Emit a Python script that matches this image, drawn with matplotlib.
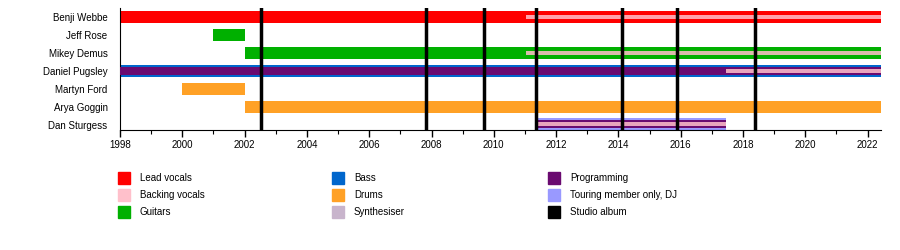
import matplotlib.pyplot as plt
from matplotlib.patches import Rectangle
from matplotlib.colors import to_rgb

plt.rcParams['font.family'] = ['Liberation Sans', 'DejaVu Sans']
plt.rcParams['font.size'] = 7

END = 2022.43

members = ['Benji Webbe', 'Jeff Rose', 'Mikey Demus', 'Daniel Pugsley',
           'Martyn Ford', 'Arya Goggin', 'Dan Sturgess']

# spans: member, role, start, end (later spans of a member are drawn inside earlier ones)
span_member = ['Benji Webbe', 'Benji Webbe', 'Jeff Rose', 'Mikey Demus', 'Mikey Demus',
               'Daniel Pugsley', 'Daniel Pugsley', 'Daniel Pugsley',
               'Martyn Ford', 'Arya Goggin',
               'Dan Sturgess', 'Dan Sturgess', 'Dan Sturgess']
span_role = ['Lead vocals', 'Backing vocals', 'Guitars', 'Guitars', 'Backing vocals',
             'Bass', 'Programming', 'Backing vocals',
             'Drums', 'Drums',
             'Touring member only, DJ', 'Programming', 'Backing vocals']
span_start = [1998.0, 2011.03, 2000.98, 2002.0, 2011.03,
              1998.0, 1998.0, 2017.45,
              2000.0, 2002.0,
              2011.35, 2011.35, 2011.35]
span_end = [END, END, 2002.0, END, END,
            END, END, END,
            2002.0, END,
            2017.45, 2017.45, 2017.45]

albums = [2002.53, 2007.82, 2009.69, 2011.35, 2014.12, 2015.89, 2018.39]

roles = ['Lead vocals', 'Backing vocals', 'Guitars', 'Bass', 'Drums', 'Synthesiser',
         'Programming', 'Touring member only, DJ', 'Studio album']
role_colors = ['#ff0000', '#ffc0cb', '#00b000', '#0066cc', '#ffa126', '#c8b4cc',
               '#6a0a70', '#9999ff', '#000000']
color_of = dict(zip(roles, role_colors))

fig = plt.figure(figsize=(9, 2.5), dpi=100)
ax = fig.add_axes([120 / 900, 1 - 130 / 250, 761 / 900, 122 / 250])

n_layers = {m: span_member.count(m) for m in members}
heights = {1: [0.66], 2: [0.66, 0.24], 3: [0.66, 0.4, 0.22]}
count = {}
for m, r, s, e in zip(span_member, span_role, span_start, span_end):
    layer = count.get(m, 0)
    count[m] = layer + 1
    h = heights[n_layers[m]][layer]
    y = -members.index(m)
    if m == 'Dan Sturgess':
        y = y + 0.05
    c = to_rgb(color_of[r])
    a = 0.85 if r == 'Backing vocals' else 1.0
    ax.barh(y, e - s, left=s, height=h, color=c, alpha=a, zorder=2 + layer)

for a in albums:
    ax.axvline(a, color='black', lw=2.5, zorder=6)

ax.set_xlim(1998, END)
ax.set_ylim(-6.28, 0.5)
ax.set_yticks([-i for i in range(len(members))])
ax.set_yticklabels(members)
ax.tick_params(axis='y', length=0, pad=9)
ax.set_xticks(range(1998, 2023, 2))
ax.set_xticks(range(1999, 2023, 2), minor=True)
ax.tick_params(axis='x', which='major', length=5, width=1, pad=2)
ax.tick_params(axis='x', which='minor', length=3, width=0.8)
for s in ['top', 'right']:
    ax.spines[s].set_visible(False)

# legend
lax = fig.add_axes([0, 0, 1, 1])
lax.set_xlim(0, 900)
lax.set_ylim(250, 0)
lax.axis('off')
col_x = [118, 332, 548]
row_y = [178, 195, 212]
for i, (r, c) in enumerate(zip(roles, role_colors)):
    x = col_x[i // 3]
    y = row_y[i % 3]
    lax.add_patch(Rectangle((x, y - 6), 12, 12, color=c))
    lax.text(x + 22, y, r, va='center', ha='left', fontsize=7)

fig.savefig('out.png', dpi=100)
